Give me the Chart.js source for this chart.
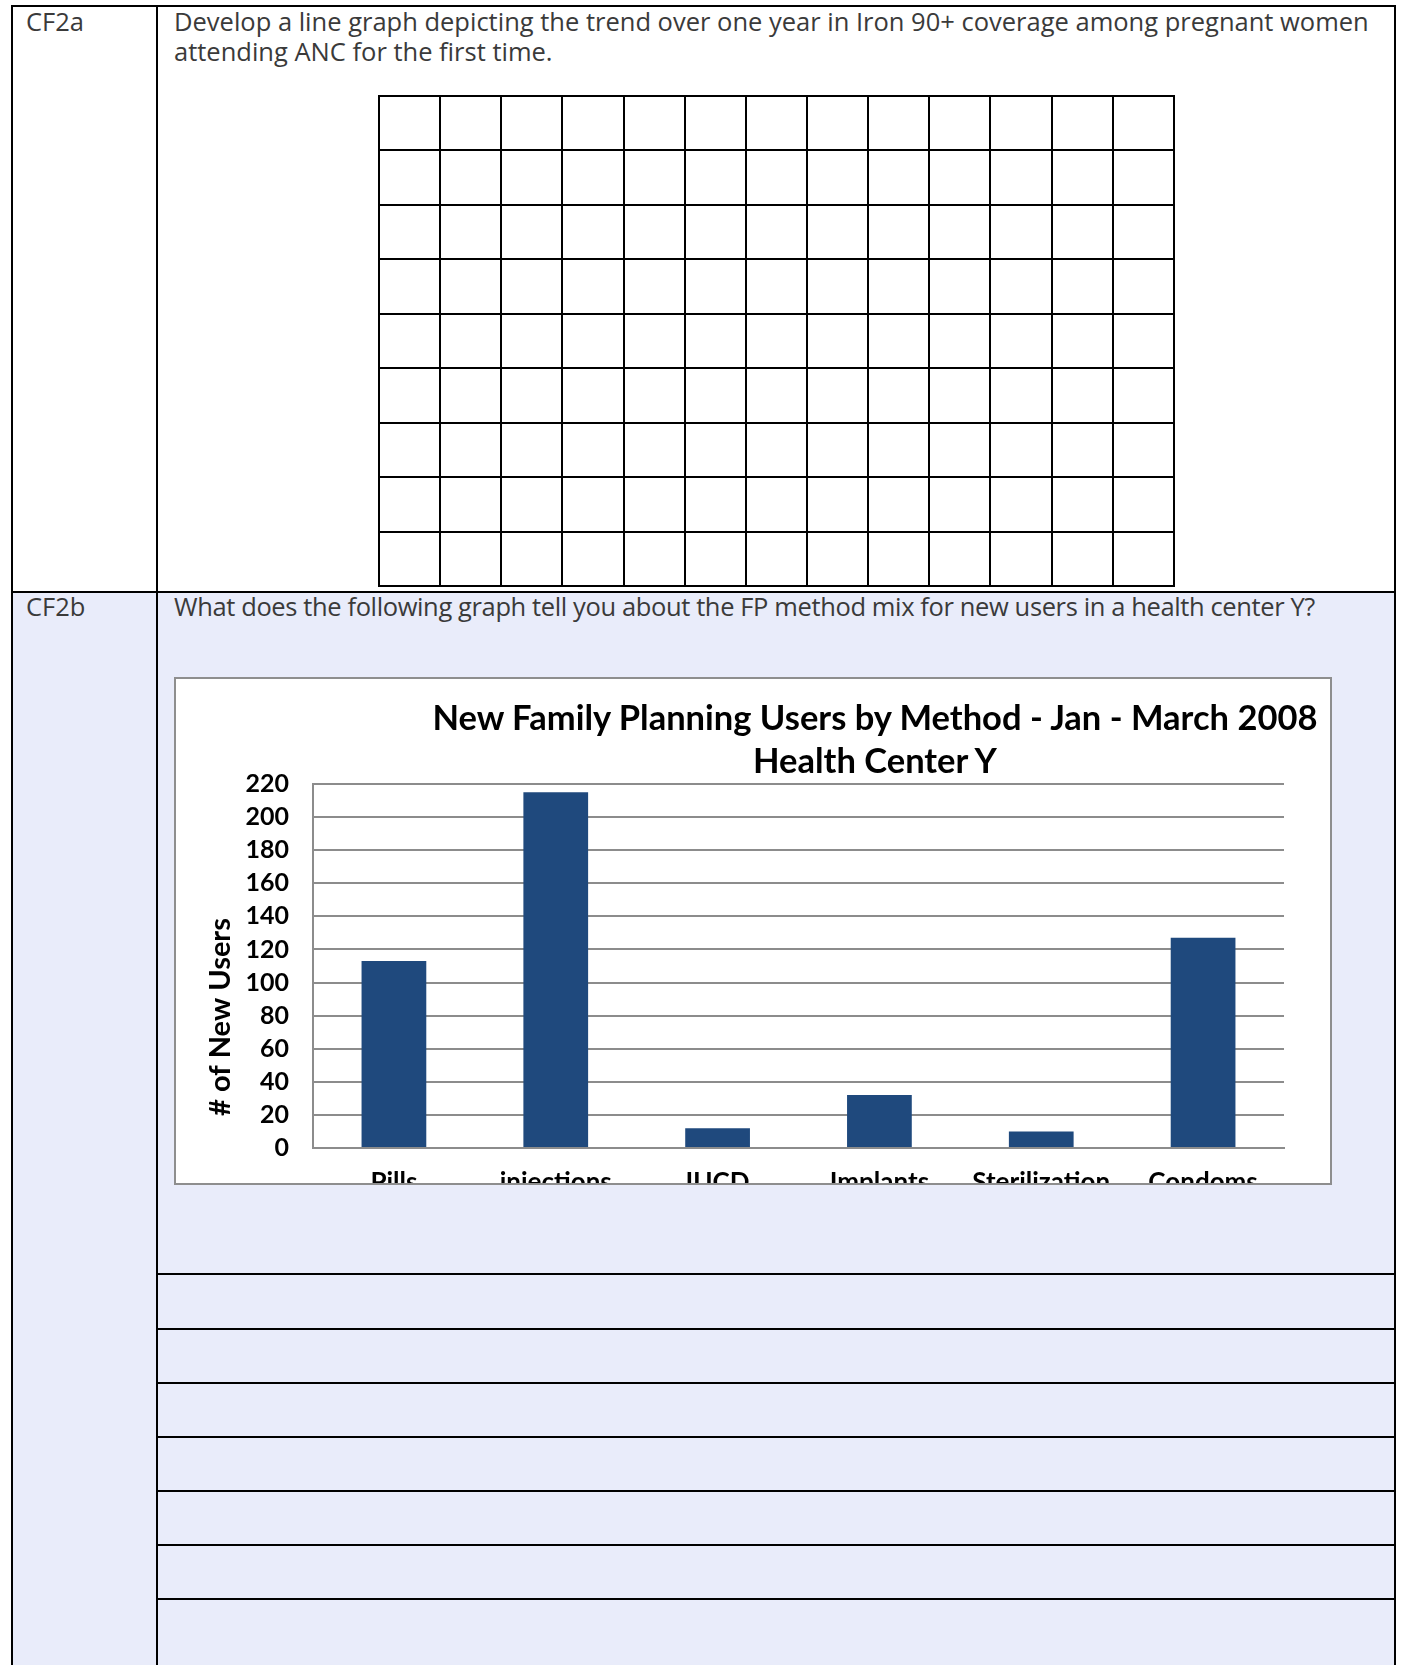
<!DOCTYPE html>
<html lang="en">
<head>
<meta charset="UTF-8">
<title>CF2 - New Family Planning Users by Method</title>
<script src="https://cdn.jsdelivr.net/npm/chart.js"></script>
<style>
    html, body { margin: 0; padding: 0; background: #fff; }
    #page { position: relative; width: 1402px; height: 1665px; overflow: hidden; background: #fff; }
    .abs { position: absolute; }
    .txt { font-family: "Open Sans", sans-serif; font-size: 25.5px; line-height: 30px; color: #3a3a3a; white-space: nowrap; }
    .hline { position: absolute; height: 2px; background: #000; }
    .vline { position: absolute; width: 2px; background: #000; }
    #blankGrid { position: absolute; left: 378px; top: 95px; width: 797px; height: 492px; border-collapse: collapse; table-layout: fixed; }
    #blankGrid td { border: 2px solid #000; padding: 0; }
    #chartBox { position: absolute; left: 174px; top: 677px; width: 1154px; height: 504px; border: 2px solid #8e8e8e; background: #fff; overflow: hidden; }
    #chartWrap { position: relative; width: 1154px; height: 540px; }
    #chartTitle { position: absolute; left: -2px; top: 16px; width: 1402px; font-family: Lato, sans-serif; font-weight: bold; font-size: 34.5px; line-height: 43px; color: #000; text-align: center; white-space: nowrap; }
</style>
</head>
<body>
<div id="page">
    <!-- row backgrounds -->
    <div class="abs" style="left:12px; top:592px; width:1383px; height:1080px; background:#e9ecfa;"></div>

    <!-- table rules -->
    <div class="hline" style="left:11px; top:5px; width:1385px;"></div>
    <div class="hline" style="left:11px; top:591px; width:1385px;"></div>
    <div class="vline" style="left:11px; top:5px; height:1670px;"></div>
    <div class="vline" style="left:156px; top:5px; height:1670px;"></div>
    <div class="vline" style="left:1394px; top:5px; height:1670px;"></div>
    <div id="answerLines"></div>

    <div class="abs txt" style="left:26px; top:6px;">CF2a</div>
    <div class="abs txt" style="left:174px; top:6px;">Develop a line graph depicting the trend over one year in Iron 90+ coverage among pregnant women<br>attending ANC for the first time.</div>

    <table id="blankGrid"></table>

    <div class="abs txt" style="left:26px; top:591px;">CF2b</div>
    <div class="abs txt" style="left:174px; top:591px; letter-spacing:-0.38px;">What does the following graph tell you about the FP method mix for new users in a health center Y?</div>

    <div id="chartBox">
        <div id="chartWrap"><canvas id="fpChart"></canvas></div>
        <div id="chartTitle"></div>
    </div>
</div>

<script>
    // chart data
    const chartTitle = ['New Family Planning Users by Method - Jan - March 2008', 'Health Center Y'];
    const yAxisTitle = '# of New Users';
    const methods = ['Pills', 'injections', 'IUCD', 'Implants', 'Sterilization', 'Condoms'];
    const newUsers = [113, 215, 12, 32, 10, 127];
    const yTicks = [0, 20, 40, 60, 80, 100, 120, 140, 160, 180, 200, 220];

    // blank answer grid 13 x 9 and ruled answer lines
    const gridCols = 13, gridRows = 9;
    const answerLineTops = [1273, 1328, 1382, 1436, 1490, 1544, 1598];

    function buildPage() {
        const grid = document.getElementById('blankGrid');
        for (let r = 0; r < gridRows; r++) {
            const tr = document.createElement('tr');
            for (let c = 0; c < gridCols; c++) tr.appendChild(document.createElement('td'));
            grid.appendChild(tr);
        }
        const lines = document.getElementById('answerLines');
        answerLineTops.forEach(t => {
            const d = document.createElement('div');
            d.className = 'hline';
            d.style.left = '157px';
            d.style.top = t + 'px';
            d.style.width = '1238px';
            lines.appendChild(d);
        });
        document.getElementById('chartTitle').innerHTML = chartTitle.join('<br>');
    }

    // rotated y title, sits a bit below the middle of the axis like the original
    const sideTitle = {
        id: 'sideTitle',
        afterDraw(chart) {
            const { ctx, chartArea } = chart;
            ctx.save();
            ctx.translate(chartArea.left - 92, chartArea.bottom - 131);
            ctx.rotate(-Math.PI / 2);
            ctx.font = 'bold 29px Lato';
            ctx.fillStyle = '#000';
            ctx.textAlign = 'center';
            ctx.textBaseline = 'middle';
            ctx.fillText(yAxisTitle, 0, 0);
            ctx.restore();
        }
    };

    function initializeChart() {
        buildPage();
        Chart.defaults.font.family = 'Lato';
        const ctx = document.getElementById('fpChart').getContext('2d');
        new Chart(ctx, {
            type: 'bar',
            data: {
                labels: methods,
                datasets: [{
                    label: yAxisTitle,
                    data: newUsers,
                    backgroundColor: '#1f497d',
                    barPercentage: 0.4,
                    categoryPercentage: 1.0
                }]
            },
            options: {
                responsive: true,
                maintainAspectRatio: false,
                animation: false,
                layout: { padding: { left: 0, right: 46, top: 105, bottom: 0 } },
                plugins: { legend: { display: false }, tooltip: { enabled: false } },
                scales: {
                    x: {
                        grid: { display: false },
                        border: { color: '#8c8c8c', width: 2 },
                        ticks: { color: '#000', font: { size: 26, weight: 'bold' }, padding: 11 },
                        afterFit: s => { s.height = 71; }
                    },
                    y: {
                        min: 0,
                        max: 220,
                        afterBuildTicks: s => { s.ticks = yTicks.map(v => ({ value: v })); },
                        grid: { color: '#8c8c8c', lineWidth: 2, drawTicks: false },
                        border: { color: '#8c8c8c', width: 2 },
                        ticks: { color: '#000', font: { size: 25, weight: 'bold' }, padding: 24 },
                        afterFit: s => { s.width = 137; }
                    }
                }
            },
            plugins: [sideTitle]
        });
    }

    window.onload = initializeChart;
</script>
</body>
</html>
